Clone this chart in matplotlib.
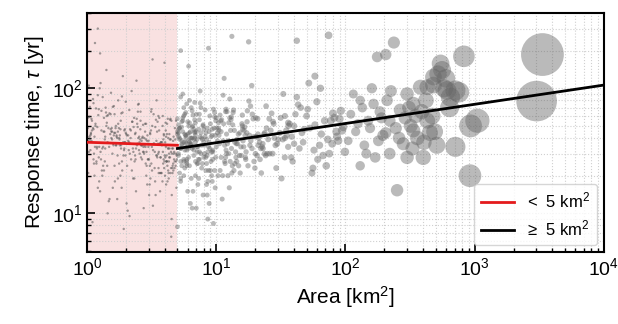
import numpy as np
import matplotlib
matplotlib.use('Agg')
import matplotlib.pyplot as plt

plt.rcParams['font.family'] = ['Liberation Sans', 'DejaVu Sans']
plt.rcParams['mathtext.fontset'] = 'custom'
plt.rcParams['mathtext.rm'] = 'Liberation Sans'
plt.rcParams['mathtext.it'] = 'Liberation Sans:italic'

# glaciers smaller than 5 km2 (area [km2], response time [yr])
area_small = [
    1.02, 1.35, 2.71, 4.12, 1.88, 3.05, 1.14, 2.26, 4.77, 1.61, 3.48, 2.02, 1.27,
    3.91, 1.09, 2.45, 1.73, 4.33, 1.21, 2.89, 3.62, 1.48, 4.58, 1.96, 2.13, 1.05,
    3.27, 1.57, 4.91, 2.37, 1.18, 3.74, 1.41, 2.61, 4.05, 1.83, 1.31, 3.15, 2.08,
    4.46, 1.66, 2.52, 1.12, 3.39, 1.77, 4.21, 2.95, 1.24, 3.83, 1.53, 2.18, 4.69,
    1.07, 2.33, 3.56, 1.44, 4.27, 1.92, 2.78, 1.16, 3.98, 1.69, 4.84, 2.41, 1.38,
    3.09, 1.29, 2.57, 4.38, 1.81, 1.03, 3.67, 2.23, 1.59, 4.15, 2.84, 1.11, 3.44,
    1.74, 4.62, 2.04, 1.36, 3.21, 1.98, 2.67, 4.01, 1.22, 3.79, 1.49, 2.29, 4.95,
    1.13, 2.93, 1.64, 3.53, 4.49, 1.86, 2.48, 1.33, 4.24, 3.12, 1.56, 2.74, 1.01,
    3.88, 2.11, 1.46, 4.72, 1.25, 3.33, 2.59, 1.79, 4.09, 1.19, 2.86, 3.69, 1.62,
    2.16, 4.41, 1.08, 3.01, 1.71, 2.39, 4.55, 1.39, 3.47, 1.94, 1.15, 2.99, 4.18,
    1.52, 3.59, 2.27, 1.06, 4.29, 1.84, 2.63, 3.95, 1.32, 4.81, 2.06, 1.67, 3.24,
    1.23, 2.81, 4.07, 1.58, 3.41, 2.14, 1.04, 4.64, 1.89, 2.54, 3.77, 1.42, 2.35,
    4.35, 1.17, 3.18, 1.76, 2.91, 1.28, 4.52, 2.44, 3.86, 1.54, 1.99, 4.11, 1.10,
    2.69, 1.43, 3.63, 4.88, 1.91, 2.21, 1.34, 3.36, 4.26, 1.63, 2.97, 1.20, 3.72,
    1.81, 4.44, 2.55, 1.05, 3.07, 1.68, 4.75, 2.31, 1.47, 3.93, 2.10, 1.26, 4.03,
    3.51, 1.37, 2.77, 1.94, 4.19, 1.12, 3.29, 2.47, 1.72, 4.59, 1.51, 2.88, 1.03,
    1.60, 3.84, 2.19, 4.67, 1.30, 2.64, 3.45, 1.85, 1.09, 4.31, 2.42, 3.14, 1.78,
    4.93, 2.01, 1.40, 3.58, 2.83, 1.16, 4.13, 1.97, 3.23, 1.55, 2.71, 4.48, 1.21,
    1.19, 2.58, 3.97, 1.45, 4.63, 2.22, 1.07, 3.34, 1.82, 4.28, 2.96, 1.58, 3.71,
    2.49, 1.13, 4.16, 1.67, 3.02, 1.29, 4.86, 2.12, 3.57, 1.38, 2.73, 4.42, 1.02,
    3.81, 1.74, 2.35, 4.97, 1.24, 3.19, 1.93, 2.66, 1.49, 4.37, 3.06, 1.11, 2.43,
    1.56, 4.54, 2.87, 1.35, 3.64, 2.03, 1.18, 4.23, 2.51, 1.71, 3.37, 1.08, 4.71,
    2.28, 1.42, 3.89, 1.87, 4.06, 2.62, 1.27, 3.49, 1.61, 2.92, 4.39, 1.15, 2.17,
    4.14, 1.65, 2.39, 1.04, 3.73, 1.95, 4.78, 2.76, 1.33, 3.13, 1.79, 2.53, 1.21,
    1.41, 3.43, 2.08, 4.57, 1.54, 2.98, 1.12, 3.85, 2.32, 1.69, 4.46, 1.86, 3.26,
    2.85, 1.06, 3.61, 1.77, 2.24, 4.32, 1.44, 3.08, 1.90, 4.65, 2.46, 1.31, 3.97,
    1.63, 4.09, 2.67, 1.23, 3.55, 1.99, 4.89, 1.37, 2.81, 1.14, 3.31, 2.15, 4.51,
    3.17, 1.52, 2.37, 4.25, 1.01, 2.74, 3.66, 1.73, 4.02, 1.26, 2.59, 1.83, 3.92,
]
tau_small = [
    38, 22, 51, 29, 64, 17, 41, 33, 26, 72, 45, 12, 31,
    27, 55, 36, 19, 43, 88, 24, 58, 34, 21, 47, 9.5, 39,
    62, 30, 16, 44, 25, 37, 140, 28, 53, 35, 20, 68, 42,
    23, 48, 32, 76, 14, 40, 57, 27, 34, 18, 92, 46, 30,
    44, 26, 60, 37, 21, 7.5, 35, 50, 29, 41, 24, 115, 33,
    19, 66, 39, 28, 47, 31, 15, 54, 36, 43, 25, 82, 38,
    52, 33, 24, 45, 170, 29, 40, 20, 61, 35, 13, 49, 27,
    30, 42, 18, 36, 55, 26, 74, 34, 22, 46, 39, 11, 58,
    25, 37, 48, 31, 100, 23, 65, 42, 17, 34, 52, 28, 44,
    36, 21, 57, 27, 40, 15, 33, 70, 29, 46, 230, 38, 24,
    47, 31, 19, 42, 26, 63, 35, 23, 85, 39, 10.5, 50, 32,
    28, 45, 34, 16, 56, 30, 41, 25, 125, 37, 21, 60, 43,
    33, 69, 22, 48, 38, 27, 14, 52, 31, 40, 78, 26, 8.5,
    41, 24, 36, 55, 29, 95, 45, 18, 33, 62, 27, 49, 37,
    20, 39, 30, 71, 44, 35, 23, 58, 12.5, 42, 32, 190, 28,
    54, 26, 40, 33, 18, 47, 36, 65, 29, 24, 43, 31, 105,
    35, 50, 27, 41, 22, 38, 80, 16, 46, 30, 57, 25, 39,
    29, 43, 64, 21, 34, 52, 26, 37, 11.5, 48, 31, 6.5, 300,
    33, 47, 26, 61, 38, 22, 43, 31, 55, 19, 36, 71, 28,
    40, 25, 52, 35, 14, 46, 30, 67, 23, 41, 34, 57, 21,
    37, 80, 29, 44, 18, 50, 32, 27, 63, 39, 24, 48, 35,
    45, 30, 20, 58, 36, 42, 26, 33, 75, 13, 49, 38, 27,
    31, 53, 39, 22, 46, 35, 110, 28, 42, 17, 56, 34, 40,
    26, 44, 33, 59, 21, 37, 48, 30, 24, 65, 35, 41, 16,
    50, 29, 38, 23, 45, 34, 27, 60, 19, 42, 31, 86, 36,
    39, 32, 46, 25, 54, 28, 10, 43, 37, 22, 49, 33, 160,
    24, 41, 35, 68, 30, 44, 26, 39, 52, 20, 36, 47, 9,
    34, 62, 27, 40, 48, 31, 21, 45, 37, 15, 55, 33, 43,
]

# glaciers larger than 5 km2
area_large = [
    5.1, 6.3, 8.7, 5.6, 12.4, 7.2, 15.8, 9.4, 5.3, 19.6, 6.8, 11.1, 24.5,
    7.7, 5.9, 13.6, 8.2, 27.3, 6.1, 10.3, 17.2, 5.4, 9.9, 21.8, 7.0, 14.5,
    6.6, 11.8, 5.2, 18.4, 8.9, 29.1, 6.4, 12.9, 7.5, 16.3, 5.8, 10.7, 22.9,
    9.1, 5.5, 14.1, 7.9, 25.7, 6.2, 11.5, 20.4, 8.4, 5.7, 13.2, 17.9, 7.3,
    5.0, 10.0, 16.9, 6.9, 28.2, 8.6, 12.1, 5.3, 23.6, 9.6, 6.5, 15.2, 7.1,
    19.0, 5.6, 8.0, 13.9, 6.0, 26.4, 10.5, 7.4, 17.6, 5.2, 11.3, 21.1, 9.2,
    6.7, 14.8, 5.9, 9.7, 24.1, 7.8, 12.6, 5.4, 18.8, 8.3, 27.8, 6.3, 10.9,
    16.1, 7.6, 5.1, 20.9, 11.7, 6.8, 15.5, 8.8, 5.8, 13.4, 22.3, 9.3, 6.1,
    5.2, 7.4, 10.8, 6.1, 15.3, 8.5, 5.7, 12.2, 20.7, 6.8, 9.3, 31.5, 5.4,
    13.8, 6.4, 8.1, 25.2, 5.9, 11.4, 7.1, 17.4, 9.8, 5.3, 36.2, 6.9, 14.2,
    8.6, 5.5, 19.3, 7.7, 10.2, 6.2, 23.4, 12.8, 5.8, 16.6, 8.9, 6.6, 28.7,
    6.0, 11.9, 7.5, 14.9, 5.1, 9.5, 21.6, 6.7, 13.1, 8.3, 33.9, 5.6, 18.1,
    10.6, 5.3, 7.9, 26.8, 6.5, 12.5, 9.0, 5.9, 16.0, 7.2, 38.4, 11.0, 6.3,
    7.0, 22.1, 5.4, 9.9, 13.5, 6.1, 30.2, 8.4, 5.7, 17.0, 10.4, 6.9, 24.3,
    5.2, 8.8, 15.6, 6.6, 11.6, 7.6, 19.9, 5.5, 34.8, 9.4, 6.3, 13.0, 7.3,
    12.0, 5.8, 27.5, 7.8, 6.0, 10.1, 18.5, 8.2, 5.1, 14.4, 21.0, 6.4, 9.7,
    6.8, 16.8, 5.3, 8.0, 32.7, 11.2, 6.2, 7.4, 25.9, 5.6, 12.7, 9.1, 15.9,
    8.7, 5.0, 13.3, 6.7, 20.2, 7.1, 10.5, 29.6, 5.9, 11.8, 6.5, 23.0, 8.5,
    5.4, 6.9, 9.2, 12.7, 5.8, 7.3, 16.4, 10.9, 6.2, 8.1, 21.3, 5.1, 13.7,
    7.9, 5.6, 11.3, 6.5, 18.9, 8.8, 5.2, 14.6, 9.7, 6.0, 24.8, 7.2, 10.4,
    6.3, 12.3, 5.5, 8.4, 15.1, 7.0, 19.5, 5.9, 9.8, 6.7, 11.6, 17.3, 8.0,
    10.2, 5.3, 7.6, 13.9, 6.4, 22.6, 9.0, 5.7, 12.0, 7.4, 15.9, 6.1, 8.6,
    5.0, 8.3, 14.3, 6.8, 10.7, 5.4, 20.1, 7.7, 11.9, 6.6, 9.4, 16.7, 5.8,
    7.1, 12.5, 5.6, 9.3, 18.2, 6.2, 10.0, 23.7, 8.5, 5.1, 13.1, 7.5, 6.9,
    13.2, 17.8, 5.3, 8.7, 5.0, 6.5, 9.5, 42, 74,
    31, 45, 63, 38, 82, 52, 34, 71, 96, 41, 57, 36, 88,
    48, 33, 67, 92, 40, 55, 77, 35, 60, 44, 85, 50, 39,
    73, 37, 58, 99, 43, 65, 32, 80, 53, 47, 90, 61, 42,
    69, 36, 86, 51, 75, 40, 94, 56, 34, 64, 46, 79, 58,
    110, 120, 130, 140, 150, 160, 170, 176, 185, 195, 205, 205, 210,
    220, 237, 251, 265, 280, 300, 320, 330, 335, 335, 350, 380, 405,
    430, 450, 480, 510, 545, 560, 600, 610, 640, 710, 754, 826, 920,
    930, 1050, 3020, 3350,
    105, 115, 125, 135, 145, 155, 165, 180, 190, 225, 245, 260, 290,
    310, 360, 390, 420, 470, 490, 520, 580, 650, 300, 400, 130, 220,
    480, 430, 710,
]
tau_large = [
    29, 45, 22, 60, 38, 17, 52, 31, 85, 26, 40, 13, 48,
    35, 24, 67, 41, 30, 150, 20, 44, 36, 55, 27, 11, 39,
    50, 28, 39, 72, 33, 23, 19, 46, 95, 34, 42, 61, 36,
    26, 58, 31, 14, 57, 37, 120, 41, 25, 32, 21, 79, 47,
    43, 34, 27, 53, 40, 9, 65, 18, 30, 48, 33, 44, 25,
    62, 70, 28, 37, 15, 46, 42, 56, 24, 48, 88, 35, 20,
    32, 43, 26, 64, 29, 39, 16, 54, 105, 22, 52, 36, 45,
    38, 30, 44, 57, 25, 77, 34, 12, 40, 51, 21, 42, 28,
    40, 27, 55, 33, 21, 48, 62, 36, 29, 44, 18, 58, 35,
    46, 70, 30, 39, 25, 52, 34, 66, 42, 19, 50, 37, 28,
    31, 45, 57, 23, 38, 80, 43, 26, 36, 49, 60, 15, 35,
    54, 32, 41, 24, 47, 68, 37, 29, 59, 44, 28, 20, 42,
    36, 26, 51, 63, 40, 30, 22, 75, 47, 34, 41, 56, 12,
    45, 33, 38, 28, 64, 50, 39, 17, 43, 31, 53, 26, 72,
    48, 37, 29, 61, 35, 44, 23, 90, 46, 32, 40, 56, 27,
    30, 42, 54, 25, 34, 48, 38, 67, 51, 26, 43, 36, 22,
    56, 28, 33, 47, 39, 20, 44, 62, 30, 37, 82, 41, 50,
    34, 45, 24, 39, 58, 31, 46, 36, 27, 65, 49, 33, 14,
    24, 42, 31, 58, 37, 19, 46, 28, 53, 35, 40, 30, 22,
    50, 27, 38, 66, 33, 45, 21, 36, 59, 43, 30, 25, 48,
    35, 20, 55, 39, 29, 62, 41, 32, 16, 47, 26, 54, 37,
    44, 33, 70, 25, 40, 34, 52, 23, 43, 31, 61, 38, 18,
    57, 28, 36, 45, 22, 49, 30, 40, 68, 34, 27, 42, 64,
    39, 53, 26, 47, 35, 24, 58, 44, 29, 41, 33, 76, 20,
    260, 235, 200, 209, 7.8, 11, 8.3, 240, 265,
    44, 70, 35, 28, 58, 110, 40, 24, 49, 62, 32, 53, 38,
    47, 90, 29, 66, 36, 21, 55, 42, 78, 33, 45, 60, 26,
    39, 52, 125, 31, 74, 43, 19, 63, 48, 37, 57, 27, 85,
    55, 34, 41, 68, 30, 50, 46, 23, 60, 100, 44, 36, 51,
    62, 45, 80, 35, 55, 100, 28, 178, 65, 42, 186, 44, 80,
    55, 232, 15.3, 67, 36, 90, 50, 33, 75, 46, 60, 102, 37,
    55, 44, 106, 35, 158, 140, 120, 96, 70, 34, 93, 180, 20,
    50, 55, 79, 186,
    38, 90, 52, 70, 30, 48, 75, 38, 58, 95, 48, 40, 58,
    70, 40, 65, 80, 60, 45, 130, 100, 85, 28, 28, 24, 30,
    123, 102, 96,
]

# power-law fits (endpoints)
fit_small_x = [1, 5]
fit_small_y = [37, 35]
fit_large_x = [5, 1e4]
fit_large_y = [33, 106]

area_large_arr = np.array(area_large)
sizes_large = 0.28 * area_large_arr + 10

fig = plt.figure(figsize=(6.18, 3.24), dpi=100)
ax = fig.add_axes([0.141, 0.222, 0.836, 0.738])

ax.axvspan(1, 5, facecolor='#f9e1e1', edgecolor='none', zorder=0)
ax.scatter(area_small, tau_small, s=3, c='#555555', alpha=0.55,
           edgecolors='none', zorder=2)
ax.scatter(area_large, tau_large, s=sizes_large, c='#666666', alpha=0.45,
           edgecolors='none', zorder=2)
ax.plot(fit_small_x, fit_small_y, color='#e41a1c', lw=2, zorder=3,
        label='<  5 km$^2$')
ax.plot(fit_large_x, fit_large_y, color='black', lw=2, zorder=3,
        label='\u2265  5 km$^2$')

ax.set_xscale('log')
ax.set_yscale('log')
ax.set_xlim(1, 1e4)
ax.set_ylim(4.9, 400)

ax.grid(which='both', ls=':', color='#d0d0d0', lw=0.8, zorder=1)
ax.set_axisbelow(True)
ax.tick_params(which='both', direction='in', labelsize=14)
ax.tick_params(which='major', length=6, width=1.2)
ax.tick_params(which='minor', length=3, width=1)
for sp in ax.spines.values():
    sp.set_linewidth(1.5)

ax.set_xlabel('Area [km$^2$]', fontsize=15)
ax.set_ylabel(r'Response time, $\tau$ [yr]', fontsize=15)

leg = ax.legend(loc='lower right', fontsize=12, frameon=True,
                borderaxespad=0.4)
leg.get_frame().set_edgecolor('#cccccc')

fig.savefig('out.png', dpi=100)
